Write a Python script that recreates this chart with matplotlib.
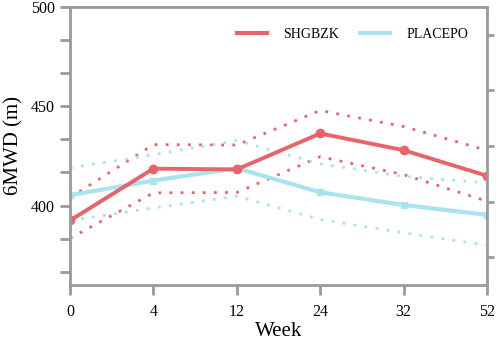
import matplotlib.pyplot as plt
from matplotlib.lines import Line2D

weeks = ['0', '4', '12', '24', '32', '52']

shgbzk = [392.5, 418.6, 418.2, 436.3, 427.9, 415.0]
shgbzk_upper = [404.0, 430.7, 430.5, 447.9, 439.8, 427.8]
shgbzk_lower = [383.5, 406.4, 406.6, 424.6, 415.6, 402.2]

placebo = [405.2, 412.6, 418.8, 406.7, 400.3, 395.3]
placebo_upper = [419.0, 425.6, 432.8, 421.0, 414.7, 411.4]
placebo_lower = [392.5, 398.8, 404.7, 393.0, 386.3, 380.0]

RED = '#E8636A'
BLUE = '#A9E3EE'
GRAY = '#9A9A9A'
DOT = (0, (1, 3))

plt.rcParams['font.family'] = ['Liberation Serif', 'DejaVu Serif']

fig = plt.figure(figsize=(4.98, 3.42), dpi=100)
ax = fig.add_axes([0.1406, 0.1667, 0.8373, 0.8128])

x = range(len(weeks))
ax.plot(x, shgbzk_upper, linestyle=DOT, color=RED, lw=2)
ax.plot(x, shgbzk_lower, linestyle=DOT, color=RED, lw=2)
ax.plot(x, placebo_upper, linestyle=DOT, color=BLUE, lw=2)
ax.plot(x, placebo_lower, linestyle=DOT, color=BLUE, lw=2)
ax.plot(x, placebo, '-s', color=BLUE, lw=3, ms=5, label='PLACEPO')
ax.plot(x, shgbzk, '-o', color=RED, lw=2.8, ms=6, label='SHGBZK')

ax.set_xlim(0, len(weeks) - 1)
ax.set_ylim(360, 500)
ax.set_xticks(list(x))
ax.set_xticklabels(weeks)
ax.set_yticks([400, 450, 500])
ax.set_yticks([366.67, 383.33, 416.67, 433.33, 466.67, 483.33], minor=True)

for s in ax.spines.values():
    s.set_color(GRAY)
    s.set_linewidth(2)
ax.tick_params(axis='both', which='both', colors=GRAY, width=2, length=7,
               labelsize=11.5, labelcolor='black')
ax.tick_params(axis='x', pad=7)
ax.tick_params(axis='y', pad=4)

ax.set_xlabel('Week', fontsize=15, labelpad=1)
ax.set_ylabel('6MWD (m)', fontsize=15, labelpad=5)

# right-hand ticks
ax2 = ax.twinx()
ax2.set_ylim(0, 5)
ax2.set_yticks([0.5, 1.5, 2.5, 3.5, 4.5])
ax2.set_yticklabels([])
ax2.tick_params(axis='y', colors=GRAY, width=2, length=5)
for s in ax2.spines.values():
    s.set_visible(False)

leg_handles = [Line2D([], [], color=RED, lw=3), Line2D([], [], color=BLUE, lw=3)]
ax.legend(leg_handles, ['SHGBZK', 'PLACEPO'], loc='upper right', ncol=2,
          frameon=False, fontsize=10, bbox_to_anchor=(0.985, 0.97),
          handlelength=2.2, columnspacing=1.5, handletextpad=1.15)

fig.savefig('out.png', dpi=100)
